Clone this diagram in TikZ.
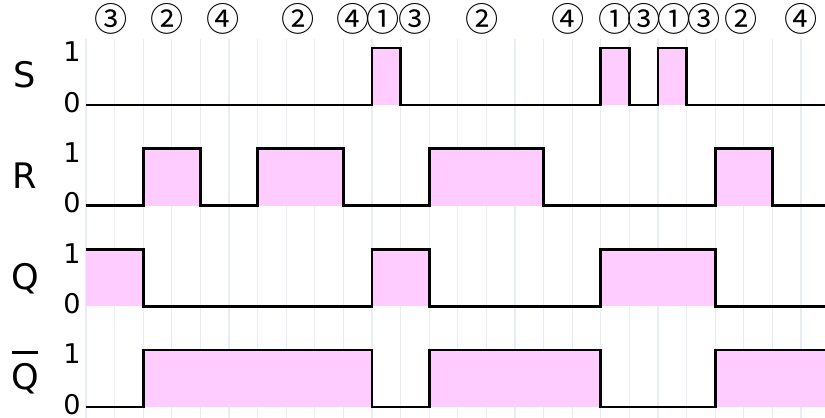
\documentclass[tikz,border=0pt]{standalone}
\usepackage{fontspec}
\setmainfont{DejaVu Sans}
\newfontfamily\modefont{Noto Sans CJK JP}
\usetikzlibrary{positioning}
\definecolor{pulsefill}{RGB}{255,204,255}
\definecolor{gridcol}{RGB}{232,237,245}
\tikzset{
  wave/.style={line width=2.7pt,line join=miter},
  siglabel/.style={font=\fontsize{35}{40}\selectfont,inner sep=0pt,anchor=base},
  lvllabel/.style={font=\fontsize{27}{30}\selectfont,inner sep=0pt},
  modelabel/.style={font=\modefont\fontsize{33}{35}\selectfont,inner sep=0pt}
}
\newcommand{\sigrow}[4]{%
  \node[siglabel] (#1name) at (-2.13,#2+0.6) {#3};%
  \node[lvllabel] (#1one) at (-0.49,#2+1.86) {1};%
  \node[lvllabel] (#1zero) at (-0.49,#2+0.1) {0};%
  \foreach \a/\b in {#4} \fill[pulsefill] (\a,#2) rectangle (\b,#2+2);%
}
\newcommand{\qbarsym}{\rlap{\kern0.03em\rule[1.02em]{0.72em}{0.075em}}Q}

\begin{document}
\begin{tikzpicture}[x=1cm,y=1cm]
  \useasboundingbox (-3.007,0) rectangle (25.84,14.615);
  \foreach \x in {0,...,25} \draw[gridcol,line width=1.2pt] (\x,0) -- (\x,13.25);
  \sigrow{s}{10.94}{S}{10/11,18/19,20/21}
  \sigrow{r}{7.42}{R}{2/4,6/9,12/16,22/24}
  \sigrow{q}{3.90}{Q}{0/2,10/12,18/22}
  \sigrow{qb}{0.38}{\qbarsym}{2/10,12/18,22/25.84}
  \draw[wave] (0,10.94) -| (10,12.94) -| (11,10.94) -| (18,12.94) -| (19,10.94) -| (20,12.94) -| (21,10.94) -- (25.84,10.94);
  \draw[wave] (0,7.42) -| (2,9.42) -| (4,7.42) -| (6,9.42) -| (9,7.42) -| (12,9.42) -| (16,7.42) -| (22,9.42) -| (24,7.42) -- (25.84,7.42);
  \draw[wave] (0,5.90) -| (2,3.90) -| (10,5.90) -| (12,3.90) -| (18,5.90) -| (22,3.90) -- (25.84,3.90);
  \draw[wave] (0,0.38) -| (2,2.38) -| (10,0.38) -| (12,2.38) -| (18,0.38) -| (22,2.38) -- (25.84,2.38);
  % operating modes
  \foreach \x/\m [count=\i] in {0.87/③,2.85/②,4.8/④,7.42/②,9.35/④,10.4/①,11.5/③,13.85/②,16.86/④,18.5/①,19.5/③,20.56/①,21.6/③,22.9/②,25.0/④}
    \node[modelabel] (mode\i) at (\x,13.97) {\m};
\end{tikzpicture}
\end{document}
